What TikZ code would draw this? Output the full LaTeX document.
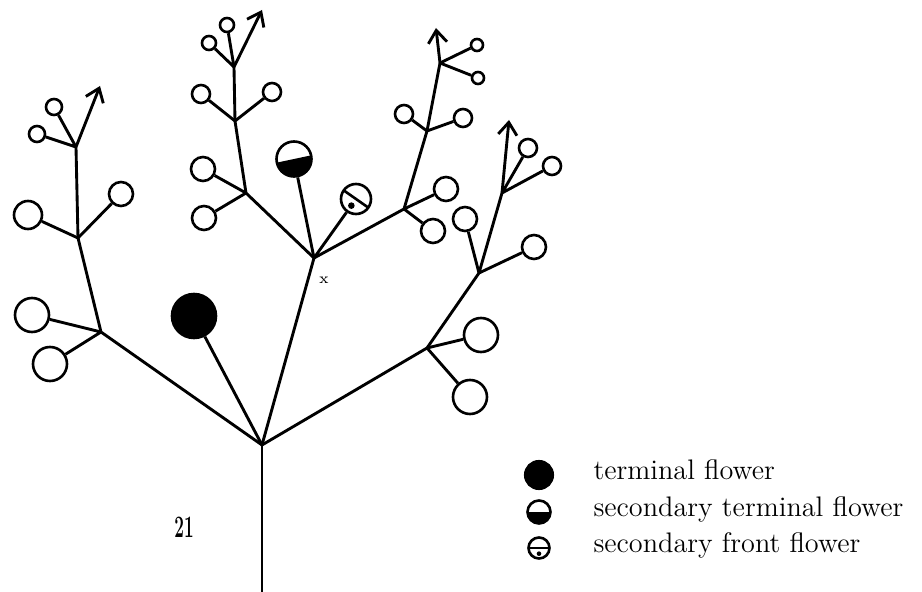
\documentclass[tikz,border=0pt]{standalone}
\usetikzlibrary{arrows.meta}
\begin{document}
\begin{tikzpicture}[
    x=0.4pt, y=-0.4pt,
    stem/.style={line width=1.15pt},
    shoot/.style={stem, -{Straight Barb[length=5pt,width=7.5pt,line width=1.15pt]}},
    flower/.style={circle, draw, line width=1.05pt, inner sep=0pt, minimum size=#1},
    terminal/.style={flower=#1, fill=black},
    secterminal/.style 2 args={flower=#1, path picture={
        \fill (path picture bounding box.center) ++(#2:20pt) -- ++(#2-90:20pt)
            -- ++(#2+180:40pt) -- ++(#2+90:20pt) -- cycle;}},
    secfront/.style 2 args={flower=#1, path picture={
        \draw[line width=1.05pt] (path picture bounding box.center) ++(#2:20pt) -- ++(#2+180:40pt);
        \fill (path picture bounding box.center) ++(#2-90:0.27*#1) circle (0.11*#1);}},
    legendtext/.style={anchor=base west, inner sep=0pt, font=\fontsize{11.3}{13}\selectfont}
]
    \useasboundingbox (0,0) rectangle (922,592);

    % Main axis
    \coordinate (base) at (262,592);
    \coordinate (fork) at (262,445);
    \draw[stem] (base) -- (fork);

    % Left branch
    \coordinate (l1) at (101,332);
    \coordinate (l2) at (78,238);
    \coordinate (l3) at (76,147);
    \coordinate (ltip) at (100,86);
    \node[flower=13.6pt] (l1a) at (32,315) {};
    \node[flower=13.6pt] (l1b) at (50,364) {};
    \node[flower=11.2pt] (l2a) at (28,215) {};
    \node[flower=9.6pt] (l2b) at (121,194) {};
    \node[flower=6.4pt] (l3a) at (37,134) {};
    \node[flower=6.4pt] (l3b) at (54,107) {};
    \draw[stem] (fork) -- (l1) -- (l2) -- (l3);
    \draw[shoot] (l3) -- (ltip);
    \draw[stem] (l1) -- (l1a) (l1) -- (l1b) (l2) -- (l2a) (l2) -- (l2b)
        (l3) -- (l3a) (l3) -- (l3b);

    % Terminal flower
    \node[terminal=17.6pt] (term) at (194,316) {};
    \draw[stem] (fork) -- (term);

    % Centre branch
    \coordinate (c0) at (314,258);
    \coordinate (c1) at (246,193);
    \coordinate (c2) at (235,121);
    \coordinate (c3) at (234,67);
    \coordinate (ctip) at (262,10);
    \node[flower=9.6pt] (c1a) at (203,169) {};
    \node[flower=9.6pt] (c1b) at (204,218) {};
    \node[flower=7.2pt] (c2a) at (201,94) {};
    \node[flower=7.2pt] (c2b) at (272,92) {};
    \node[flower=5.6pt] (c3a) at (209,43) {};
    \node[flower=5.6pt] (c3b) at (227,25) {};
    \draw[stem] (fork) -- (c0) -- (c1) -- (c2) -- (c3);
    \draw[shoot] (c3) -- (ctip);
    \draw[stem] (c1) -- (c1a) (c1) -- (c1b) (c2) -- (c2a) (c2) -- (c2b)
        (c3) -- (c3a) (c3) -- (c3b);
    \node[font=\fontsize{6}{7}\selectfont, inner sep=0pt] (xmark) at (324,280) {x};

    % Secondary flowers
    \node[secterminal={14pt}{12}] (secterm) at (294,159) {};
    \node[secfront={12pt}{-35}] (secfront) at (356,199) {};
    \draw[stem] (c0) -- (secterm);
    \draw[stem] (c0) -- (secfront);

    % Middle branch
    \coordinate (m1) at (404,209);
    \coordinate (m2) at (427,131);
    \coordinate (m3) at (440,63);
    \coordinate (mtip) at (436,28);
    \node[flower=9.6pt] (m1a) at (446,189) {};
    \node[flower=9.6pt] (m1b) at (433,231) {};
    \node[flower=7.2pt] (m2a) at (404,114) {};
    \node[flower=7.2pt] (m2b) at (463,118) {};
    \node[flower=4.8pt] (m3a) at (477,45) {};
    \node[flower=4.8pt] (m3b) at (478,78) {};
    \draw[stem] (c0) -- (m1) -- (m2) -- (m3);
    \draw[shoot] (m3) -- (mtip);
    \draw[stem] (m1) -- (m1a) (m1) -- (m1b) (m2) -- (m2a) (m2) -- (m2b)
        (m3) -- (m3a) (m3) -- (m3b);

    % Right branch
    \coordinate (r1) at (427,348);
    \coordinate (r2) at (479,273);
    \coordinate (r3) at (502,193);
    \coordinate (rtip) at (509,120);
    \node[flower=13.6pt] (r1a) at (481,335) {};
    \node[flower=13.6pt] (r1b) at (470,397) {};
    \node[flower=9.6pt] (r2a) at (465,219) {};
    \node[flower=9.6pt] (r2b) at (534,247) {};
    \node[flower=7.2pt] (r3a) at (528,148) {};
    \node[flower=7.2pt] (r3b) at (552,166) {};
    \draw[stem] (fork) -- (r1) -- (r2) -- (r3);
    \draw[shoot] (r3) -- (rtip);
    \draw[stem] (r1) -- (r1a) (r1) -- (r1b) (r2) -- (r2a) (r2) -- (r2b)
        (r3) -- (r3a) (r3) -- (r3b);

    % Figure number
    \node[font=\fontsize{12.5}{14}\selectfont\bfseries, inner sep=0pt] (fignum) at (184,527)
        {\scalebox{0.55}[1]{21}};

    % Legend
    \node[terminal=11pt] (keyterm) at (539,475) {};
    \node[secterminal={9.2pt}{0}] (keysecterm) at (539,512) {};
    \node[secfront={8.4pt}{0}] (keysecfront) at (539,548) {};
    \node[legendtext] (keyterml) at (593,480) {terminal flower};
    \node[legendtext] (keysecterml) at (593,517) {secondary terminal flower};
    \node[legendtext] (keysecfrontl) at (593,553) {secondary front flower};
\end{tikzpicture}
\end{document}
